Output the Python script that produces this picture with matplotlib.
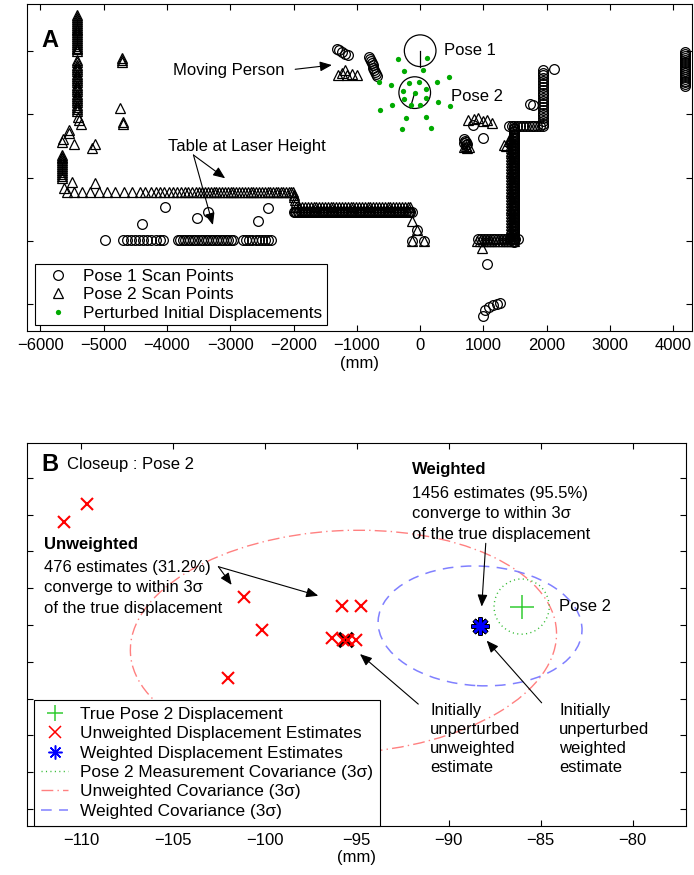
#!/usr/bin/env python3
"""
Scan matching figure: two laser scans with perturbed start displacements (A)
and a closeup of the resulting displacement estimates around pose 2 (B).
"""

import numpy as np
import matplotlib
matplotlib.use('Agg')
import matplotlib.pyplot as plt
from matplotlib.patches import Circle, Ellipse
from matplotlib.lines import Line2D

plt.rcParams['font.family'] = ['Liberation Sans', 'DejaVu Sans']
plt.rcParams['font.size'] = 12

# ---------------- Panel A data (mm) ----------------
# robot poses: x, y, heading (deg)
pose1 = (0.0, 0.0, -90.0)
pose2 = (-86.0, -661.0, -106.0)
robot_radius = 250.0

# perturbations applied to the initial pose 2 displacement
perturb_dx = [0, -84, 63, -179, 184, -174, 184, -63, 79,
              -169, 137, -379, 358, -364, 374, -137, 174,
              -258, 200, -564, 537, -548, 564, -200, 258]
perturb_dy = [0, 158, 169, 26, 63, -95, -84, -195, -190,
              343, 358, 116, 163, -195, -142, -395, -379,
              527, 553, 174, 242, -274, -211, -580, -553]

# pose 1 scan points, grouped by surface
p1_table_x = [-4977,
              -4700, -4635, -4570, -4505, -4440, -4375, -4310, -4245, -4180, -4115, -4065,
              -3830, -3790, -3750, -3710, -3670, -3630, -3590, -3550, -3510, -3470, -3430,
              -3390, -3350, -3310, -3270, -3230, -3190, -3150, -3110, -3070, -3030, -2990, -2965,
              -2800, -2750, -2700, -2650, -2600, -2550, -2500, -2450, -2400, -2350]
p1_table_y = -2990
p1_stray_x = [-4029, -4398, -3529, -3345, -2555, -2407]
p1_stray_y = [-2464, -2740, -2635, -2548, -2690, -2484]
wall_x = [-2000, -1955, -1910, -1865, -1820, -1775, -1730, -1685, -1640, -1595, -1550,
          -1505, -1460, -1415, -1370, -1325, -1280, -1235, -1190, -1145, -1100, -1055,
          -1010, -965, -920, -875, -830, -785, -740, -695, -650, -605, -560, -515, -470,
          -425, -380, -335, -290, -245, -200, -155]
wall_x_fill = [-1978, -1933, -1888, -1843, -1798, -1753, -1708, -1663, -1618, -1573,
               -1528, -1483, -1438, -1393, -1348, -1303, -1258, -1213, -1168, -1123,
               -1078, -1033, -988, -943, -898, -853, -808, -763, -718, -673, -628,
               -583, -538, -493, -448, -403, -358, -313, -268, -223, -178, -133]
p1_wall_y = -2550
p1_shelf_x = [-53, -131, 63]
p1_shelf_y = [-2828, -2996, -2996]
p1_person_x = [-1316, -1275, -1230, -1185, -1140]
p1_person_y = [22, 5, -20, -45, -68]
p1_post_x = [-805, -792, -779, -766, -753, -740, -727, -714, -701, -688]
p1_post_y = [-100, -133, -166, -199, -232, -265, -298, -331, -364, -397]
p1_box_x = [842, 1000, 700, 715, 730, 700, 745, 720]
p1_box_y = [-1171, -1381, -1400, -1420, -1440, -1450, -1470, -1480]
p1_upper_x = 1935
p1_upper_y = [-300, -345, -390, -435, -480, -525, -570, -615, -660, -705, -750,
              -795, -840, -885, -930, -975, -1020, -1065, -1110, -1155, -1183]
p1_loose_x = [2107, 1740, 1775, 1063]
p1_loose_y = [-293, -840, -860, -3369]
p1_ledge_x = [1400, 1445, 1490, 1535, 1580, 1625, 1670, 1715, 1760, 1805, 1850, 1895]
p1_ledge_y = -1183
p1_column_x = 1480
p1_column_y = [-1220, -1265, -1310, -1355, -1400, -1445, -1490, -1535, -1580, -1625,
               -1670, -1715, -1760, -1805, -1850, -1895, -1940, -1985, -2030, -2075,
               -2120, -2165, -2210, -2255, -2300, -2345, -2390, -2435, -2480, -2525,
               -2570, -2615, -2660, -2705, -2750, -2795, -2840, -2885, -2930, -2975, -3020]
p1_column_y_fill = [-1242, -1287, -1332, -1377, -1422, -1467, -1512, -1557, -1602,
                    -1647, -1692, -1737, -1782, -1827, -1872, -1917, -1962, -2007,
                    -2052, -2097, -2142, -2187, -2232, -2277, -2322, -2367, -2412,
                    -2457, -2502, -2547, -2592, -2637, -2682, -2727, -2772, -2817,
                    -2862, -2907, -2952, -2997]
p1_floor_x = [920, 965, 1010, 1055, 1100, 1145, 1190, 1235, 1280, 1325, 1370, 1415,
              1460, 1505, 1550]
p1_floor_y = -2975
p1_bin_x = [985, 1027, 1095, 1158, 1221, 1264]
p1_bin_y = [-4190, -4084, -4042, -4016, -3995, -3979]
p1_door_x = 4190
p1_door_y = [-20, -50, -80, -110, -140, -170, -200, -230, -260, -290, -320, -350,
             -380, -410, -440, -470, -500, -530, -560]

# pose 2 scan points, grouped by surface
p2_col1_x = -5424
p2_col1_y = [560, 530, 500, 470, 440, 410, 380, 350, 320, 290, 260, 230, 200, 170,
             140, 110, 80, 50, 20, -10]
p2_col2_x = [-5424] * 24 + [-5400, -5390, -5360]
p2_col2_y = [-150, -185, -220, -255, -290, -325, -360, -395, -430, -465, -500, -535,
             -570, -605, -640, -675, -710, -745, -780, -815, -850, -885, -920, -955,
             -1050, -1100, -1160]
p2_scatter_x = [-5556, -5556, -5661, -5640, -5477, -5187, -5135, -5503, -5635, -5135]
p2_scatter_y = [-1250, -1305, -1435, -1400, -1470, -1530, -1476, -2066, -2170, -2091]
p2_col3_x = -5661
p2_col3_y = [-1640, -1670, -1700, -1730, -1760, -1790, -1820, -1850, -1880, -1910,
             -1940, -1970, -2000]
p2_table_x = [-5582, -5477, -5345, -5214, -5082, -4950, -4819, -4687, -4556, -4424,
              -4345, -4255, -4176, -4108, -4040, -3970, -3907, -3844, -3781, -3723,
              -3665, -3607, -3549, -3496, -3444, -3400, -3355, -3310, -3265, -3220,
              -3175, -3130, -3085, -3040, -2995, -2950, -2905, -2860, -2815, -2770,
              -2725, -2680, -2635, -2590, -2545, -2500, -2455, -2410, -2365, -2320,
              -2280, -2240, -2200, -2160, -2120, -2080, -2045, -2010]
p2_table_y = -2225
p2_step_x = [-2000, -1990, -1975, -1960]
p2_step_y = [-2270, -2310, -2350, -2390]
p2_wall_y = -2465
p2_shelf_x = [-131, -53, -131, 63]
p2_shelf_y = [-2686, -2828, -2996, -2996]
p2_pillar_x = [-4713, -4713, -4713, -4740, -4688, -4688]
p2_pillar_y = [-115, -150, -185, -907, -1130, -1160]
p2_person_x = [-1300, -1240, -1185, -1150, -1080, -1000]
p2_person_y = [-390, -350, -300, -380, -360, -390]
p2_box_x = [760, 850, 920, 990, 1060, 1130, 700, 740, 770, 720]
p2_box_y = [-1100, -1080, -1060, -1110, -1090, -1140, -1520, -1530, -1520, -1500]
p2_stair_x = [1330, 1360, 1400]
p2_stair_y = [-1480, -1500, -1420]
p2_column_x = 1430
p2_column_y = [-1350, -1395, -1440, -1485, -1530, -1575, -1620, -1665, -1710, -1755,
               -1800, -1845, -1890, -1935, -1980, -2025, -2070, -2115, -2160, -2205,
               -2250, -2295, -2340, -2385, -2430, -2475, -2520, -2565, -2610, -2655,
               -2700, -2745, -2790, -2835, -2880, -2925, -2950]
p2_floor_x = [900, 945, 990, 1035, 1080, 1125, 1170, 1215, 1260, 1305, 1350, 1395,
              1440, 1485, 975]
p2_floor_y = [-2995] * 14 + [-3110]

# ---------------- Panel B data (mm) ----------------
true_pose2 = (-86.04, -661.0)
unw_est_x = [-109.69, -110.91, -101.12, -100.14, -95.79, -94.79, -96.37, -95.74,
             -95.46, -95.05, -102.03]
unw_est_y = [-655.44, -656.38, -660.46, -662.27, -660.97, -660.95, -662.72, -662.82,
             -662.82, -662.82, -664.88]
unw_start = (-95.6, -662.82)
w_est = (-88.30, -662.05)
pose2_cov_radius = 1.5
unw_cov_center = (-95.73, -662.92)
unw_cov_axes = (11.6, 6.05)
unw_cov_angle = 3.0
w_cov_center = (-88.30, -662.05)
w_cov_axes = (5.55, 3.25)
w_cov_angle = -3.0


def gather(*segments):
    xs, ys = [], []
    for sx, sy in segments:
        sx, sy = np.broadcast_arrays(np.asarray(sx, float), np.asarray(sy, float))
        xs.append(sx)
        ys.append(sy)
    return np.concatenate(xs), np.concatenate(ys)


def style_axes(ax):
    for s in ax.spines.values():
        s.set_linewidth(0.8)
    ax.tick_params(direction='in', length=4.5, width=0.8, top=True, right=True,
                   labelleft=False, pad=5, labelsize=12)


def draw_robot(ax, pose, r):
    x, y, h = pose
    ax.add_patch(Circle((x, y), r, fill=False, ec='k', lw=0.9, zorder=3))
    ax.plot([x, x + r * np.cos(np.radians(h))], [y, y + r * np.sin(np.radians(h))],
            color='k', lw=0.9, zorder=3)


arrow = dict(arrowstyle='-|>,head_length=0.6,head_width=0.25', color='k', lw=0.8,
             shrinkA=0, shrinkB=0)

fig = plt.figure(figsize=(6.94, 8.75), dpi=100)

# ---------------- A ----------------
axA = fig.add_axes([27 / 694, 1 - 331 / 875, 665 / 694, 327 / 875])
x1, y1 = gather((p1_table_x, p1_table_y), (p1_stray_x, p1_stray_y),
                (wall_x, p1_wall_y), (wall_x_fill, p1_wall_y),
                (p1_shelf_x, p1_shelf_y),
                (p1_person_x, p1_person_y), (p1_post_x, p1_post_y),
                (p1_box_x, p1_box_y), (p1_upper_x, p1_upper_y),
                (p1_loose_x, p1_loose_y), (p1_ledge_x, p1_ledge_y),
                (p1_column_x, p1_column_y), (p1_column_x, p1_column_y_fill),
                (p1_floor_x, p1_floor_y),
                (p1_bin_x, p1_bin_y), (p1_door_x, p1_door_y))
x2, y2 = gather((p2_col1_x, p2_col1_y), (p2_col2_x, p2_col2_y),
                (p2_scatter_x, p2_scatter_y), (p2_col3_x, p2_col3_y),
                (p2_table_x, p2_table_y), (p2_step_x, p2_step_y),
                (wall_x[1:], p2_wall_y), (p2_shelf_x, p2_shelf_y),
                (p2_pillar_x, p2_pillar_y), (p2_person_x, p2_person_y),
                (p2_box_x, p2_box_y), (p2_stair_x, p2_stair_y),
                (p2_column_x, p2_column_y), (p2_floor_x, p2_floor_y))

axA.plot(x1, y1, 'o', mfc='none', mec='k', ms=7.0, mew=0.9, label='Pose 1 Scan Points')
axA.plot(x2, y2, '^', mfc='none', mec='k', ms=7.0, mew=0.9, label='Pose 2 Scan Points')
draw_robot(axA, pose1, robot_radius)
draw_robot(axA, pose2, robot_radius)
axA.plot(pose2[0] + np.array(perturb_dx), pose2[1] + np.array(perturb_dy), 'o',
         color='#00aa00', ms=3.8, mew=0, zorder=4, label='Perturbed Initial Displacements')

axA.set_xlim(-6212, 4295)
axA.set_ylim(-4421, 737)
axA.set_xticks(np.arange(-6000, 4001, 1000))
axA.set_yticks(np.arange(-4000, 1, 1000))
style_axes(axA)
axA.set_xlabel('(mm)', labelpad=2)

axA.text(-5988, 169, 'A', fontsize=17, fontweight='bold', va='center')
axA.text(-3898, -315, 'Moving Person', va='center')
axA.annotate('', xy=(-1395, -226), xytext=(-1975, -293), arrowprops=arrow)
axA.text(384, 0, 'Pose 1', va='center')
axA.text(490, -722, 'Pose 2', va='center')
axA.text(-3977, -1514, 'Table at Laser Height', va='center')
axA.annotate('', xy=(-3081, -2012), xytext=(-3582, -1645), arrowprops=arrow)
axA.annotate('', xy=(-3275, -2749), xytext=(-3582, -1645), arrowprops=arrow)

legA = axA.legend(loc='lower left', bbox_to_anchor=(0.012, 0.018), borderaxespad=0,
                  fancybox=False, edgecolor='k', framealpha=1, handlelength=2.2,
                  handletextpad=0.35, borderpad=0.26, labelspacing=0.2, fontsize=12.4)
legA.get_frame().set_linewidth(0.8)

# ---------------- B ----------------
axB = fig.add_axes([27 / 694, 1 - 825.7 / 875, 659 / 694, 383 / 875])
axB.add_patch(Ellipse(unw_cov_center, 2 * unw_cov_axes[0], 2 * unw_cov_axes[1],
                      angle=unw_cov_angle, fill=False, ec='#ff8080', lw=1.0,
                      ls=(0, (8.5, 3, 1, 3))))
axB.add_patch(Ellipse(w_cov_center, 2 * w_cov_axes[0], 2 * w_cov_axes[1],
                      angle=w_cov_angle, fill=False, ec='#8080ff', lw=1.1,
                      ls=(0, (7, 4.8))))
axB.add_patch(Circle(true_pose2, pose2_cov_radius, fill=False, ec='#33bb33', lw=1.0,
                     ls=(0, (0.8, 2.4))))

axB.plot(*true_pose2, '+', color='#33cc33', ms=17, mew=1.1)
axB.plot(*unw_start, 'x', color='k', ms=9.5, mew=2.6)
axB.plot(unw_est_x, unw_est_y, 'x', color='#ff0000', ms=9, mew=1.5)
axB.plot(*w_est, marker=(8, 2, 0), color='k', ms=13, mew=3.2)
axB.plot(*w_est, marker=(8, 2, 0), color='#0000ff', ms=12, mew=1.8)

axB.set_xlim(-112.94, -77.10)
axB.set_ylim(-672.91, -652.09)
axB.set_xticks(np.arange(-110, -79, 5))
axB.set_yticks(np.arange(-672, -653, 2))
style_axes(axB)
axB.set_xlabel('(mm)', labelpad=2)

axB.text(-112.14, -653.30, 'B', fontsize=17, fontweight='bold', va='center')
axB.text(-110.78, -653.30, 'Closeup : Pose 2', va='center')
axB.text(-112.01, -657.60, 'Unweighted', fontweight='bold', va='center')
axB.text(-112.01, -659.97, '476 estimates (31.2%)\nconverge to within 3σ\n'
         'of the true displacement', va='center', linespacing=1.45)
axB.annotate('', xy=(-101.81, -659.82), xytext=(-102.53, -658.83), arrowprops=arrow)
axB.annotate('', xy=(-97.10, -660.41), xytext=(-102.53, -658.83), arrowprops=arrow)
axB.text(-92.02, -653.57, 'Weighted', fontweight='bold', va='center')
axB.text(-92.02, -655.96, '1456 estimates (95.5%)\nconverge to within 3σ\n'
         'of the true displacement', va='center', linespacing=1.45)
axB.annotate('', xy=(-88.21, -661.00), xytext=(-87.99, -657.56), arrowprops=arrow)
axB.text(-83.99, -661.00, 'Pose 2', va='center')
axB.text(-91.02, -668.19, 'Initially\nunperturbed\nunweighted\nestimate',
         va='center', linespacing=1.33)
axB.annotate('', xy=(-94.83, -663.58), xytext=(-91.66, -666.30), arrowprops=arrow)
axB.text(-83.99, -668.19, 'Initially\nunperturbed\nweighted\nestimate',
         va='center', linespacing=1.33)
axB.annotate('', xy=(-87.94, -662.85), xytext=(-84.95, -666.23), arrowprops=arrow)

handlesB = [
    Line2D([], [], ls='none', marker='+', color='#33cc33', ms=12, mew=1.1),
    Line2D([], [], ls='none', marker='x', color='#ff0000', ms=8, mew=1.1),
    Line2D([], [], ls='none', marker=(8, 2, 0), color='#0000ff', ms=10, mew=1.1),
    Line2D([], [], color='#33bb33', lw=1.0, ls=(0, (0.8, 2.4))),
    Line2D([], [], color='#ff8080', lw=1.0, ls=(0, (8.5, 3, 1, 3))),
    Line2D([], [], color='#8080ff', lw=1.1, ls=(0, (7, 4.8))),
]
labelsB = ['True Pose 2 Displacement', 'Unweighted Displacement Estimates',
           'Weighted Displacement Estimates', 'Pose 2 Measurement Covariance (3σ)',
           'Unweighted Covariance (3σ)', 'Weighted Covariance (3σ)']
legB = axB.legend(handlesB, labelsB, loc='lower left', bbox_to_anchor=(0.0106, 0.0),
                  borderaxespad=0, fancybox=False, edgecolor='k', framealpha=1,
                  handlelength=1.6, handletextpad=0.7, borderpad=0.4,
                  labelspacing=0.25, fontsize=12.4)
legB.get_frame().set_linewidth(0.8)

fig.savefig('out.png', dpi=100)
